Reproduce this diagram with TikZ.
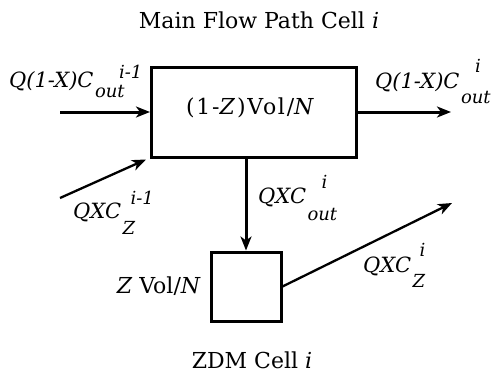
\documentclass[tikz,border=0pt]{standalone}
\usepackage{fontspec}
\setmainfont{DejaVu Serif}
\usetikzlibrary{arrows.meta}
% #1 main, #2 sup, #3 sub, #4 sup x-shift, #5 sup raise, #6 sub drop
\newcommand{\flowlbl}[6]{{\fontsize{21}{25}\selectfont\itshape #1}\kern1.5pt\rlap{\kern#4\raisebox{#5}{\fontsize{18}{18}\selectfont\itshape #2}}\raisebox{-#6}{\fontsize{18}{18}\selectfont\itshape #3}}
\begin{document}
\begin{tikzpicture}[x=1pt,y=-1pt,
  txt/.style={inner sep=0pt,font=\fontsize{22}{26}\selectfont},
  cell/.style={draw,line width=3pt,inner sep=0pt},
  tip/.style={-{Stealth[length=14pt,width=11pt,inset=4pt]}},
  flow/.style={line width=3pt,tip},
  dflow/.style={line width=2.3pt,tip}]
\useasboundingbox (0,0) rectangle (504,376);
\node[txt,anchor=base] (title) at (259,28) {Main Flow Path Cell \textit{i}};
\node[cell,minimum width=205pt,minimum height=90pt] (main) at (254,112) {};
\node[txt,anchor=base] (mainlbl) at (251,114) {\addfontfeature{LetterSpace=8}(1-\textit{Z})Vol/\textit{N}};
\node[cell,minimum width=70pt,minimum height=69pt] (zdm) at (246,286.5) {};
\node[txt,anchor=base east] (zlbl) at (201,293) {\textit{Z} Vol/\textit{N}};
\node[txt,anchor=base] (ztitle) at (252,368) {ZDM Cell \textit{i}};
\coordinate (inL) at (60,112);
\coordinate (outR) at (451,112);
\coordinate (inZ) at (60,198);
\coordinate (outZ) at (452,203);
\draw[flow] (inL) -- (main.west);
\draw[flow] (main.east) -- (outR);
\draw[dflow] (inZ) -- ([xshift=-4pt,yshift=-1pt]main.south west);
\draw[flow] (main.south -| zdm.north) -- (zdm.north);
\draw[dflow] (zdm.east) -- (outZ);
\node[txt,anchor=base west] (l1) at (9,87) {\flowlbl{Q(1-X)C}{i-1}{out}{24pt}{9pt}{10pt}};
\node[txt,anchor=base west] (l2) at (375,88) {\flowlbl{Q(1-X)C}{i}{out}{14pt}{16pt}{15pt}};
\node[txt,anchor=base west] (l3) at (258,203) {\flowlbl{QXC}{i}{out}{14pt}{15pt}{17pt}};
\node[txt,anchor=base west] (l4) at (73,218) {\flowlbl{QXC}{i-1}{Z}{8pt}{14pt}{16pt}};
\node[txt,anchor=base west] (l5) at (363,272) {\flowlbl{QXC}{i}{Z}{7pt}{16pt}{15pt}};
\end{tikzpicture}
\end{document}
